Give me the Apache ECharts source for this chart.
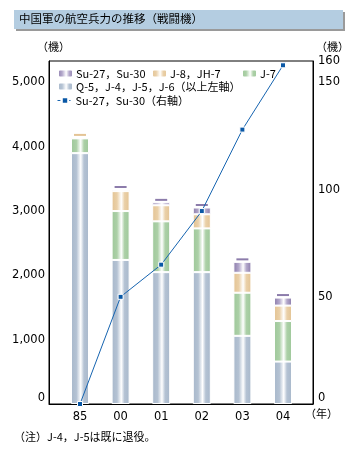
<!DOCTYPE html>
<html><head><meta charset="utf-8">
<script src="https://cdn.jsdelivr.net/npm/echarts@6/dist/echarts.min.js"></script>
<style>html,body{margin:0;padding:0;background:#fff}#c{width:357px;height:455px}</style>
</head><body><div id="c"></div>
<script>
const categories = ['85', '00', '01', '02', '03', '04'];
const oldFighters = [3900, 2240, 2050, 2050, 1060, 660];   // Q-5, J-4, J-5, J-6
const j7 = [230, 760, 790, 680, 670, 630];
const j8 = [15, 310, 250, 220, 310, 240];
const su27Left = [0, 25, 45, 105, 170, 125];
const su27Right = [0, 50, 65, 90, 128, 158];
const leftTicks = [0, 1000, 2000, 3000, 4000, 5000];
const rightTicks = [0, 50, 100, 150, 160];

const CJK = '"Noto Sans CJK JP", "Noto Sans", sans-serif';
const NUM = '"DejaVu Sans", sans-serif';
const LMAX = 5333, RMAX = 160;

function grad(c, c2) {
  return new echarts.graphic.LinearGradient(0, 0, 1, 0, [
    {offset: 0, color: c}, {offset: 0.3, color: c2 || c}, {offset: 0.54, color: '#ffffff'},
    {offset: 0.72, color: c2 || c}, {offset: 1, color: c}
  ]);
}
const colBlue = '#a9b9cc', colGreen = '#a0c99b', colTan = '#e4c495', colPurple = '#8c7cab';
const stacks = [
  {name: 'Q-5，J-4，J-5，J-6（以上左軸）', data: oldFighters, c: colBlue, fill: grad('#a8b8cb', '#b4c2d3')},
  {name: 'J-7', data: j7, c: colGreen, fill: grad('#9ec89a', '#acd0a7')},
  {name: 'J-8，JH-7', data: j8, c: colTan, fill: grad('#e3c393', '#ead0a8')},
  {name: 'Su-27，Su-30', data: su27Left, c: colPurple, fill: grad('#8a7aaa', '#b3a8cb')}
];
const totals = categories.map((_, i) => stacks.reduce((s, st) => s + st.data[i], 0));
const capColor = categories.map((_, i) => {
  let c = stacks[0].c;
  stacks.forEach(st => { if (st.data[i] > 0) c = st.c; });
  return c;
});

const series = stacks.map(st => ({
  name: st.name, type: 'bar', stack: 'all', barWidth: 18,
  xAxisIndex: 0, yAxisIndex: 0,
  itemStyle: {color: st.fill, borderColor: '#ffffff', borderWidth: 1},
  data: st.data,
  silent: true
}));
series.push({
  type: 'custom', xAxisIndex: 0, yAxisIndex: 0, silent: true, z: 3,
  data: totals.map((t, i) => [i, t]),
  renderItem: function (params, api) {
    const p = api.coord([api.value(0), api.value(1)]);
    return {type: 'rect', shape: {x: p[0] - 6, y: p[1] - 3.5, width: 12, height: 2},
      style: {fill: capColor[params.dataIndex]}};
  }
});
series.push({
  name: 'Su-27，Su-30（右軸）', type: 'line', xAxisIndex: 0, yAxisIndex: 1, z: 5,
  data: su27Right,
  symbol: 'rect', symbolSize: 5,
  lineStyle: {color: '#1664b0', width: 1},
  itemStyle: {color: '#0a58a6', borderColor: '#ffffff', borderWidth: 1},
  silent: true
});

function legend(name, left, top, extra) {
  return Object.assign({
    data: [name], left: left, top: top, padding: 0, itemWidth: 15, itemHeight: 8,
    selectedMode: false,
    textStyle: {fontFamily: CJK, fontSize: 11, color: '#000', padding: [0, 0, 0, -2]}
  }, extra || {});
}

const hiddenY = (max, pos) => ({
  type: 'value', gridIndex: 0, min: 0, max: max, position: pos, show: false
});

const chart = echarts.init(document.getElementById('c'), null, {renderer: 'canvas'});
chart.setOption({
  animation: false,
  backgroundColor: '#ffffff',
  grid: [
    {left: 59.7, right: 53.7, top: 61, bottom: 51},
    {left: 49, right: 44, top: 61, bottom: 51, show: true, borderColor: '#000', borderWidth: 1}
  ],
  xAxis: [{
    type: 'category', gridIndex: 0, data: categories, boundaryGap: true,
    axisLine: {show: false}, axisTick: {show: false}, splitLine: {show: false},
    axisLabel: {margin: 7, fontFamily: NUM, fontSize: 11.5, color: '#000'}
  }, {
    type: 'value', gridIndex: 1, min: 0, max: 1, show: true,
    axisLine: {show: true, lineStyle: {color: '#000'}},
    axisTick: {show: false}, axisLabel: {show: false}, splitLine: {show: false}
  }],
  yAxis: [
    hiddenY(LMAX, 'left'),
    hiddenY(RMAX, 'right'),
    {
      type: 'value', gridIndex: 1, min: 0, max: LMAX, interval: 1000, position: 'left',
      axisLine: {show: true, lineStyle: {color: '#000'}},
      axisTick: {show: false}, splitLine: {show: false},
      axisLabel: {
        showMaxLabel: false, margin: 4, fontFamily: NUM, fontSize: 11.5, color: '#000',
        formatter: v => v === 0 ? '{z|0}' : (leftTicks.includes(v) ? v.toLocaleString('en-US') : ''),
        rich: {z: {fontFamily: NUM, fontSize: 11.5, color: '#000', padding: [0, 0, 12, 0]}}
      }
    }, {
      type: 'value', gridIndex: 1, min: 0, max: RMAX, interval: 50, position: 'right',
      axisLine: {show: true, lineStyle: {color: '#000'}},
      axisTick: {show: false}, splitLine: {show: false},
      axisLabel: {
        showMaxLabel: true, margin: 5, fontFamily: NUM, fontSize: 11.5, color: '#000',
        formatter: v => v === 0 ? '{z|0}' : (rightTicks.includes(v) ? String(v) : ''),
        rich: {z: {fontFamily: NUM, fontSize: 11.5, color: '#000', padding: [0, 0, 12, 0]}}
      }
    }
  ],
  legend: [
    legend('Su-27，Su-30', 57, 68),
    legend('J-8，JH-7', 151, 68),
    legend('J-7', 241, 68),
    legend('Q-5，J-4，J-5，J-6（以上左軸）', 57, 81),
    legend('Su-27，Su-30（右軸）', 57, 95, {lineStyle: {type: [3, 2], width: 1}})
  ],
  graphic: [
    {type: 'rect', shape: {x: 16, y: 12, width: 329, height: 19}, style: {fill: '#9a9a9a'}, silent: true},
    {type: 'rect', shape: {x: 14, y: 10, width: 329, height: 19}, style: {fill: '#b4cde1'}, silent: true},
    {type: 'text', left: 19, top: 13, style: {text: '中国軍の航空兵力の推移（戦闘機）', fontFamily: CJK, fontSize: 11.5, fill: '#000'}},
    {type: 'text', left: 37, top: 41, style: {text: '（機）', fontFamily: CJK, fontSize: 11, fill: '#000'}},
    {type: 'text', left: 316, top: 41, style: {text: '（機）', fontFamily: CJK, fontSize: 11, fill: '#000'}},
    {type: 'text', left: 305, top: 408, style: {text: '（年）', fontFamily: CJK, fontSize: 11, fill: '#000'}},
    {type: 'text', left: 14, top: 431, style: {text: '（注）J-4，J-5は既に退役。', fontFamily: CJK, fontSize: 11, fill: '#000'}}
  ],
  series: series
});
</script></body></html>
